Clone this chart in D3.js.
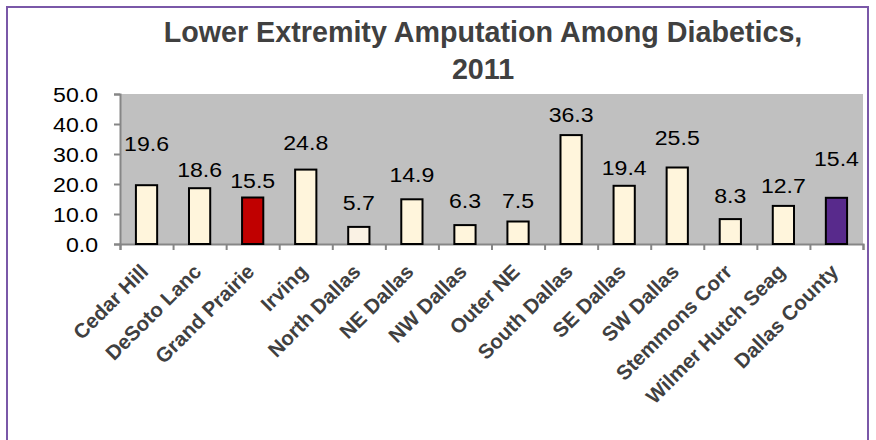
<!DOCTYPE html>
<html>
<head>
<meta charset="utf-8">
<script src="https://cdn.jsdelivr.net/npm/d3@7"></script>
<style>
  html, body { margin: 0; padding: 0; background: #ffffff; }
  svg { display: block; }
</style>
</head>
<body>
<svg id="chart" width="876" height="440"></svg>
<script>
// ---- data ----
const categories = ["Cedar Hill", "DeSoto Lanc", "Grand Prairie", "Irving", "North Dallas",
  "NE Dallas", "NW Dallas", "Outer NE", "South Dallas", "SE Dallas", "SW Dallas",
  "Stemmons Corr", "Wilmer Hutch Seag", "Dallas County"];
const values = [19.6, 18.6, 15.5, 24.8, 5.7, 14.9, 6.3, 7.5, 36.3, 19.4, 25.5, 8.3, 12.7, 15.4];
const yTicks = [0, 10, 20, 30, 40, 50];
const titleLines = ["Lower Extremity Amputation Among Diabetics,", "2011"];

// ---- styles / layout (kept apart from the data) ----
const barFills = ["#FFF5DC", "#FFF5DC", "#C00000", "#FFF5DC", "#FAF2E4", "#FFF5DC", "#FFF5DC",
  "#FFF5DC", "#FFF5DC", "#FFF5DC", "#FFF5DC", "#FFF5DC", "#FFF5DC", "#582A8C"];
const labelLift = [34, 11, 9.5, 19.6, 17, 17, 17, 13.5, 13, 11, 22.5, 16, 13, 32];
const plot = { left: 120, right: 863, top: 94, bottom: 244 };
const sx = 1.1; // horizontal text stretch seen in the reference

const svg = d3.select("#chart");

// outer border
svg.append("rect")
  .attr("x", 7).attr("y", 7).attr("width", 861).attr("height", 450)
  .attr("fill", "none").attr("stroke", "#7A58A8").attr("stroke-width", 2);

// scales
const x = d3.scaleBand().domain(categories).range([plot.left, plot.right]).paddingInner(0).paddingOuter(0);
const xEdges = d3.scaleLinear().domain([0, categories.length]).range([plot.left, plot.right]);
const y = d3.scaleLinear().domain([0, 50]).range([plot.bottom, plot.top]);

// plot background
svg.append("rect")
  .attr("x", plot.left).attr("y", plot.top)
  .attr("width", plot.right - plot.left).attr("height", plot.bottom - plot.top)
  .attr("fill", "#C0C0C0");

// title
const title = svg.append("text")
  .attr("text-anchor", "middle")
  .attr("font-family", "Liberation Sans, Arial, sans-serif")
  .attr("font-weight", "bold")
  .attr("font-size", 28.7)
  .attr("fill", "#404040");
titleLines.forEach((t, i) => {
  title.append("tspan").attr("x", 483).attr("y", 42 + i * 37).text(t);
});

// y axis
const yAxis = svg.append("g")
  .attr("transform", `translate(${plot.left},0)`)
  .call(d3.axisLeft(y).tickValues(yTicks).tickFormat(d3.format(".1f")).tickSize(6).tickPadding(16));
yAxis.select(".domain").attr("stroke", "#868686").attr("stroke-width", 2);
yAxis.selectAll(".tick line").attr("stroke", "#868686").attr("stroke-width", 2);
yAxis.selectAll(".tick text")
  .attr("font-family", "Liberation Sans, Arial, sans-serif")
  .attr("font-size", 21)
  .attr("fill", "#000")
  .attr("x", -22 / sx)
  .attr("dy", "0.36em")
  .attr("transform", `scale(${sx},1)`);

// x axis (ticks at band edges)
const xAxis = svg.append("g")
  .attr("transform", `translate(0,${plot.bottom})`)
  .call(d3.axisBottom(xEdges).tickValues(d3.range(categories.length + 1)).tickSize(6).tickFormat(""));
xAxis.select(".domain").attr("stroke", "#868686").attr("stroke-width", 2);
xAxis.selectAll(".tick line").attr("stroke", "#868686").attr("stroke-width", 2);

// category labels
svg.append("g").selectAll("text")
  .data(categories)
  .join("text")
  .attr("transform", d => `translate(${x(d) + x.bandwidth() / 2 + 3},${plot.bottom + 29}) rotate(-45)`)
  .attr("text-anchor", "end")
  .attr("font-family", "Liberation Sans, Arial, sans-serif")
  .attr("font-weight", "bold")
  .attr("font-size", 20.5)
  .attr("fill", "#404040")
  .text(d => d);

// bars
const barW = x.bandwidth() * 0.4;
svg.append("g").selectAll("rect")
  .data(values)
  .join("rect")
  .attr("x", (d, i) => x(categories[i]) + (x.bandwidth() - barW) / 2)
  .attr("y", d => y(d))
  .attr("width", barW)
  .attr("height", d => y(0) - y(d))
  .attr("fill", (d, i) => barFills[i])
  .attr("stroke", "#000")
  .attr("stroke-width", 2);

// value labels
svg.append("g").selectAll("text")
  .data(values)
  .join("text")
  .attr("transform", (d, i) => `translate(${x(categories[i]) + x.bandwidth() / 2},${y(d) - labelLift[i]}) scale(${sx},1)`)
  .attr("text-anchor", "middle")
  .attr("font-family", "Liberation Sans, Arial, sans-serif")
  .attr("font-size", 21)
  .attr("fill", "#000")
  .text(d => d3.format(".1f")(d));
</script>
</body>
</html>
